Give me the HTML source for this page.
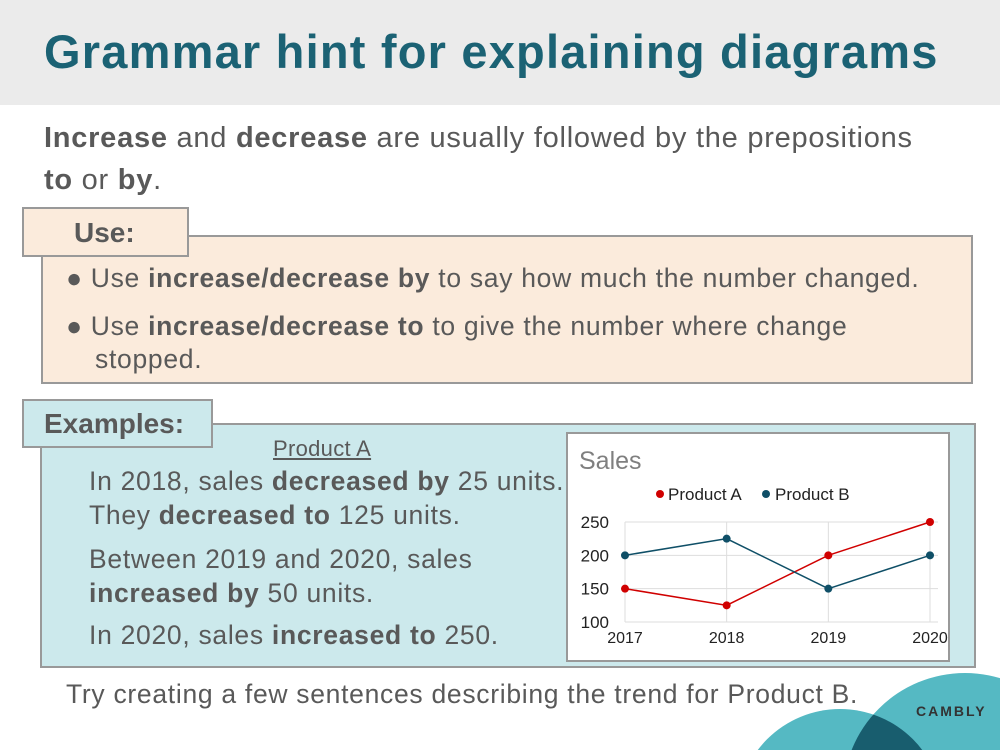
<!DOCTYPE html>
<html><head><meta charset="utf-8"><style>
*{margin:0;padding:0;box-sizing:border-box}
html,body{width:1000px;height:750px;overflow:hidden}
body{position:relative;background:#fff;font-family:"Liberation Sans",sans-serif;color:#595959}
.a{position:absolute;white-space:nowrap}
b{font-weight:bold}
.t{font-size:26.5px;letter-spacing:0.7px}
</style></head><body>
<div class="a" style="left:0;top:0;width:1000px;height:105px;background:#ebebeb"></div>
<div class="a" style="left:44px;top:24px;font-size:47px;font-weight:bold;color:#1b6274;letter-spacing:1.2px">Grammar hint for explaining diagrams</div>
<div class="a" style="left:44px;top:117px;font-size:29px;letter-spacing:0.75px;line-height:42px">
<b>Increase</b> and <b>decrease</b> are usually followed by the prepositions<br><b>to</b> or <b>by</b>.</div>

<div class="a" style="left:41px;top:235px;width:932px;height:149px;background:#fbebdc;border:2px solid #999"></div>
<div class="a" style="left:22px;top:207px;width:167px;height:50px;background:#fbebdc;border:2px solid #999;font-size:28px;font-weight:bold;padding:8px 0 0 50px">Use:</div>
<div class="a t" style="left:66px;top:263px">●&nbsp;Use <b>increase/decrease by</b> to say how much the number changed.</div>
<div class="a t" style="left:66px;top:310px;line-height:33px">●&nbsp;Use <b>increase/decrease to</b> to give the number where change</div>
<div class="a t" style="left:95px;top:343px;line-height:33px">stopped.</div>

<div class="a" style="left:40px;top:423px;width:936px;height:245px;background:#cce9ec;border:2px solid #999"></div>
<div class="a" style="left:22px;top:399px;width:191px;height:49px;background:#cce9ec;border:2px solid #999;font-size:28px;font-weight:bold;padding:7px 0 0 20px">Examples:</div>
<div class="a" style="left:273px;top:436px;font-size:22px;letter-spacing:0.3px;text-decoration:underline">Product A</div>
<div class="a t" style="left:89px;top:464px;line-height:34px">In 2018, sales <b>decreased by</b> 25 units.<br>They <b>decreased to</b> 125 units.</div>
<div class="a t" style="left:89px;top:542px;line-height:34px">Between 2019 and 2020, sales<br><b>increased by</b> 50 units.</div>
<div class="a t" style="left:89px;top:620px">In 2020, sales <b>increased to</b> 250.</div>

<svg class="a" style="left:566px;top:432px" width="384" height="230" id="chart">
<rect x="1" y="1" width="382" height="228" fill="#fff" stroke="#999" stroke-width="2"/>
<text x="13" y="37" font-size="25" fill="#7f7f7f" font-family="Liberation Sans">Sales</text>
<circle cx="94" cy="62" r="4" fill="#d00000"/>
<text x="102" y="68" font-size="17" fill="#222" font-family="Liberation Sans">Product A</text>
<circle cx="200" cy="62" r="4" fill="#0f4f67"/>
<text x="209" y="68" font-size="17" fill="#222" font-family="Liberation Sans">Product B</text>
<g id="plot"></g>
</svg>

<svg class="a" style="left:740px;top:660px" width="260" height="90">
<defs><clipPath id="c1"><circle cx="225" cy="135" r="122"/></clipPath></defs>
<circle cx="225" cy="135" r="122" fill="#55b9c3"/>
<circle cx="100" cy="152" r="103" fill="#55b9c3"/>
<circle cx="100" cy="152" r="103" fill="#185d6e" clip-path="url(#c1)"/>
<text x="176" y="56" font-size="14" font-weight="bold" letter-spacing="2" fill="#333" font-family="Liberation Sans">CAMBLY</text>
</svg>
<div class="a t" style="left:66px;top:679px">Try creating a few sentences describing the trend for Product B.</div>

<script>
const years=["2017","2018","2019","2020"];
const productA=[150,125,200,250];
const productB=[200,225,150,200];
const yTicks=[100,150,200,250];
const ns="http://www.w3.org/2000/svg";
const g=document.getElementById('plot');
const x0=59,x1=364,yb=190,yt=90;
const X=i=>x0+(x1-x0)*i/(years.length-1);
const Y=v=>yb-(v-100)/150*(yb-yt);
function mk(t,a){const e=document.createElementNS(ns,t);for(const k in a)e.setAttribute(k,a[k]);g.appendChild(e);return e;}
yTicks.forEach(v=>{
 const l=mk('line',{x1:x0,x2:x1+8,y1:Y(v),y2:Y(v),stroke:'#ddd'});
 
 
 const t=mk('text',{x:x0-16,y:Y(v)+6,'font-size':17,'text-anchor':'end',fill:'#222','font-family':'Liberation Sans'});
 t.textContent=v;
 
 
});
years.forEach((y,i)=>{
 const l=mk('line',{x1:X(i),x2:X(i),y1:yt,y2:yb,stroke:'#ddd'});
 
 
 const t=mk('text',{x:X(i),y:yb+21,'font-size':16,'text-anchor':'middle',fill:'#222','font-family':'Liberation Sans'});
 t.textContent=y;
 
 
});
[[productA,'#d00000','product-a'],[productB,'#0f4f67','product-b']].forEach(([d,c,n])=>{
 const p=mk('polyline',{points:d.map((v,i)=>X(i)+','+Y(v)).join(' '),fill:'none',stroke:c,'stroke-width':1.5});
 
 
 d.forEach((v,i)=>{
  const e=mk('circle',{cx:X(i),cy:Y(v),r:4,fill:c});
  
  
 });
});
</script>
</body></html>
